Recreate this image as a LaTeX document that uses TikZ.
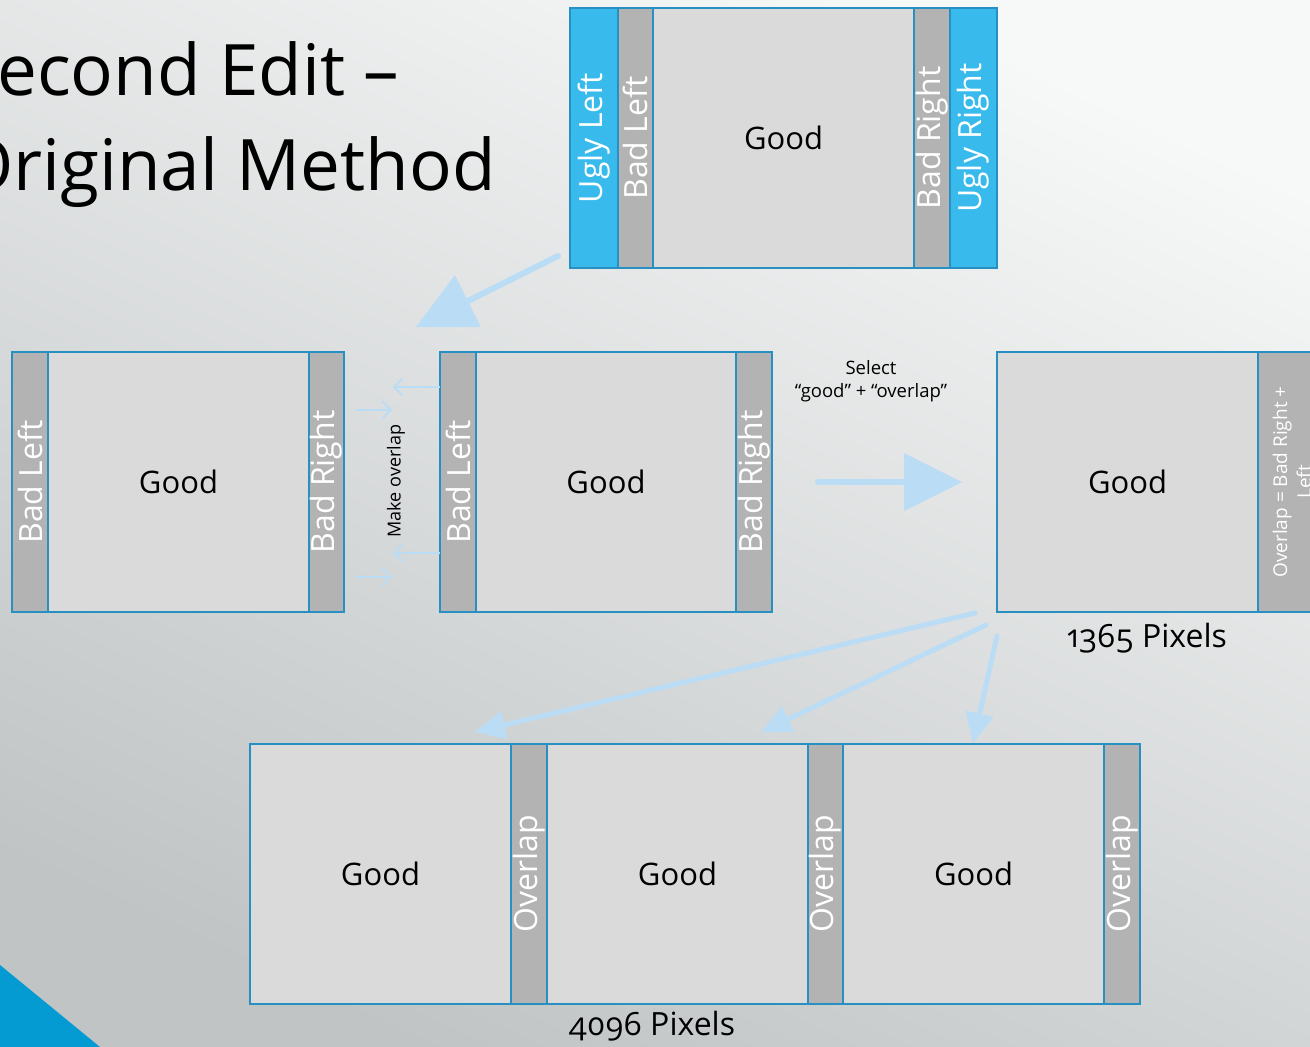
\documentclass[tikz,border=0pt]{standalone}
\usepackage{fontspec}
\setmainfont{Open Sans}
\newfontfamily\pixfont[Numbers=OldStyle]{Open Sans}
\usetikzlibrary{arrows.meta}
\definecolor{bgA}{RGB}{247,248,248}
\definecolor{bgB}{RGB}{192,196,197}
\definecolor{good}{RGB}{218,218,218}
\definecolor{bad}{RGB}{179,179,179}
\definecolor{ugly}{RGB}{56,187,236}
\definecolor{edge}{RGB}{40,143,194}
\definecolor{arr}{RGB}{187,220,245}
\definecolor{corner}{RGB}{4,154,210}
\begin{document}
\begin{tikzpicture}[x=1pt,y=-1pt,
  seg/.style={draw=edge, line width=2pt, inner sep=0pt, minimum height=260pt},
  goodseg/.style={seg, fill=good, minimum width=261pt, font=\fontsize{31}{36}\selectfont},
  badseg/.style={seg, fill=bad, minimum width=36pt},
  uglyseg/.style={seg, fill=ugly, minimum width=47pt},
  side/.style={rotate=90, text=white, font=\fontsize{32}{36}\selectfont, inner sep=0pt},
  bigarrow/.style={draw=arr, line width=6pt, line cap=round, -{Triangle[length=58pt,width=58pt,line width=0pt]}},
  midarrow/.style={draw=arr, line width=5pt, line cap=round, -{Triangle[length=30pt,width=29pt,line width=0pt]}},
  thinarrow/.style={draw=arr, line width=2pt, -{Straight Barb[length=8pt,width=17pt]}},
  smalltext/.style={font=\fontsize{18.5}{23}\selectfont, align=center, inner sep=0pt},
  pixtext/.style={font=\pixfont\fontsize{32}{36}\selectfont, inner sep=0pt}
]
\useasboundingbox (0,0) rectangle (1310,1047);
\clip (0,0) rectangle (1310,1047);
% background
\shade[top color=bgA, bottom color=bgB, shading angle=-25] (-10,-10) rectangle (1320,1057);
\fill[corner] (0,965) -- (100,1047) -- (0,1047) -- cycle;

% title
\node[anchor=base west, inner sep=0pt, align=left, font=\fontsize{71}{95}\selectfont] (title) at (-42,190) {Second Edit --\\Original Method};

% top box
\node[uglyseg, minimum width=48pt] (tul) at (594,138) {};
\node[badseg, minimum width=35pt] (tbl) at (635.5,138) {};
\node[goodseg] (tg) at (783.5,138) {Good};
\node[badseg] (tbr) at (932,138) {};
\node[uglyseg] (tur) at (973.5,138) {};
\node[side] (ltul) at (tul) {Ugly Left};
\node[side] (ltbl) at (tbl) {Bad Left};
\node[side] (ltbr) at (tbr) {Bad Right};
\node[side] (ltur) at (tur) {Ugly Right};

% middle-left box
\node[badseg] (abl) at (30,482) {};
\node[goodseg] (ag) at (178.5,482) {Good};
\node[badseg, minimum width=35pt] (abr) at (326.5,482) {};
\node[side] (labl) at (abl) {Bad Left};
\node[side] (labr) at (abr) {Bad Right};

% middle box
\node[badseg] (bbl) at (458,482) {};
\node[goodseg] (bg) at (606,482) {Good};
\node[badseg] (bbr) at (754,482) {};
\node[side] (lbbl) at (bbl) {Bad Left};
\node[side] (lbbr) at (bbr) {Bad Right};

% right box
\node[goodseg] (cg) at (1127.5,482) {Good};
\node[seg, fill=bad, minimum width=68pt] (co) at (1292,482) {};
\node[side, font=\fontsize{19}{24}\selectfont, align=center] (lco) at (co) {Overlap = Bad Right +\\Left};

% bottom box
\node[goodseg] (dg1) at (380.5,874) {Good};
\node[badseg] (do1) at (529,874) {};
\node[goodseg] (dg2) at (677.5,874) {Good};
\node[badseg, minimum width=35pt] (do2) at (825.5,874) {};
\node[goodseg] (dg3) at (973.5,874) {Good};
\node[badseg] (do3) at (1122,874) {};
\node[side] (ldo1) at (do1) {Overlap};
\node[side] (ldo2) at (do2) {Overlap};
\node[side] (ldo3) at (do3) {Overlap};

% texts
\node[smalltext] (sel) at (871,381) {Select\\“good” + “overlap”};
\node[smalltext, font=\fontsize{18}{23}\selectfont, rotate=90] (mko) at (396,481) {Make overlap};
\node[pixtext] (p1) at (1147,638) {1365 Pixels};
\node[pixtext] (p2) at (652,1026) {4096 Pixels};

% arrows
\coordinate (a1s) at (558,256);
\coordinate (a1e) at (416,327);
\draw[bigarrow] (a1s) -- (a1e);
\coordinate (a2s) at (818,482);
\coordinate (a2e) at (962,482);
\draw[bigarrow] (a2s) -- (a2e);

\coordinate (mAs) at (975,613);
\coordinate (mAe) at (475,732);
\coordinate (mBs) at (986,625);
\coordinate (mBe) at (761,732);
\coordinate (mCs) at (997,636);
\coordinate (mCe) at (973,743);
\draw[midarrow] (mAs) -- (mAe);
\draw[midarrow] (mBs) -- (mBe);
\draw[midarrow] (mCs) -- (mCe);

\coordinate (t1s) at (440,387);
\coordinate (t1e) at (393,387);
\coordinate (t2s) at (356,410);
\coordinate (t2e) at (392,410);
\coordinate (t3s) at (440,553);
\coordinate (t3e) at (393,553);
\coordinate (t4s) at (356,577);
\coordinate (t4e) at (392,577);
\draw[thinarrow] (t1s) -- (t1e);
\draw[thinarrow] (t2s) -- (t2e);
\draw[thinarrow] (t3s) -- (t3e);
\draw[thinarrow] (t4s) -- (t4e);
\end{tikzpicture}
\end{document}
